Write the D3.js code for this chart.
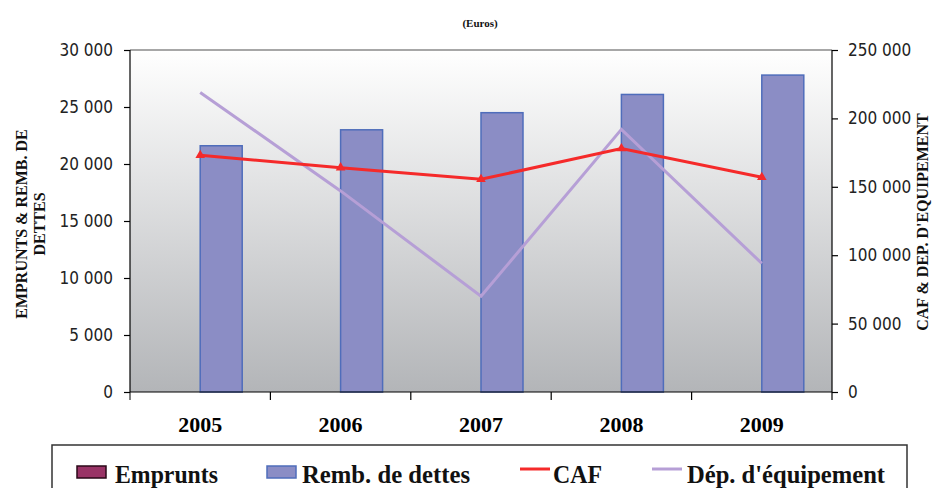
<!DOCTYPE html>
<html>
<head>
<meta charset="utf-8">
<script src="https://cdn.jsdelivr.net/npm/d3@7"></script>
<style>
  body { margin: 0; background: #fff; }
  .tick text { font-family: "Liberation Sans Narrow", "DejaVu Sans Condensed", sans-serif; font-size: 17px; fill: #222; }
  .xax .tick text { font-family: "Liberation Serif", serif; font-weight: bold; font-size: 22px; fill: #000; }
  .title, .ytitle, .leg { font-family: "Liberation Serif", serif; font-weight: bold; fill: #111; }
</style>
</head>
<body>
<div id="chart"></div>
<script>
  let years     = ['2005', '2006', '2007', '2008', '2009'],
      emprunts  = [0, 0, 0, 0, 0],
      remb      = [21600, 23000, 24500, 26100, 27800],
      caf       = [173000, 164000, 155500, 178000, 157000],
      depEquip  = [219000, 147000, 70000, 192000, 94000],
      leftTicks  = [0, 5000, 10000, 15000, 20000, 25000, 30000],
      rightTicks = [0, 50000, 100000, 150000, 200000, 250000]

  let width = 933, height = 488,
      m = { left: 130, right: 832, top: 50, bottom: 392 }

  let svg = d3.select('#chart').append('svg:svg')
              .attr('width', width).attr('height', height)

  let defs = svg.append('defs')
  let grad = defs.append('linearGradient').attr('id', 'bg')
                 .attr('x1', 0).attr('y1', 0).attr('x2', 0).attr('y2', 1)
  grad.append('stop').attr('offset', '0%').attr('stop-color', '#ffffff')
  grad.append('stop').attr('offset', '100%').attr('stop-color', '#b3b5b8')

  let fmt = d => d3.format(',')(d).replace(/,/g, ' ')

  let x  = d3.scaleBand().domain(years).range([m.left, m.right]),
      yL = d3.scaleLinear().domain([0, 30000]).range([m.bottom, m.top]),
      yR = d3.scaleLinear().domain([0, 250000]).range([m.bottom, m.top])

  // plot area
  svg.append('rect')
    .attr('x', m.left).attr('y', m.top)
    .attr('width', m.right - m.left).attr('height', m.bottom - m.top)
    .attr('fill', 'url(#bg)')
  svg.append('line')
    .attr('x1', m.left).attr('x2', m.right).attr('y1', m.top).attr('y2', m.top)
    .attr('stroke', '#8a8a8a').attr('stroke-width', 1.5)

  // bars
  let barW = 42
  let bars = svg.append('g')
  bars.selectAll('rect.emp').data(years).enter().append('rect')
    .attr('class', 'emp')
    .attr('x', d => x(d) + x.bandwidth() / 2 - barW)
    .attr('width', barW)
    .attr('y', (d, i) => yL(emprunts[i]))
    .attr('height', (d, i) => yL(0) - yL(emprunts[i]))
    .attr('fill', '#993366').attr('stroke', '#4a1030')
  bars.selectAll('rect.remb').data(years).enter().append('rect')
    .attr('class', 'remb')
    .attr('x', d => x(d) + x.bandwidth() / 2)
    .attr('width', barW)
    .attr('y', (d, i) => yL(remb[i]))
    .attr('height', (d, i) => yL(0) - yL(remb[i]))
    .attr('fill', '#8b8dc5').attr('stroke', '#4f6dbb').attr('stroke-width', 1.5)

  // lines
  let cx = d => x(d) + x.bandwidth() / 2
  let lineR = vals => d3.line().x((d, i) => cx(years[i])).y(d => yR(d))(vals)

  svg.append('path').attr('d', lineR(depEquip))
    .attr('fill', 'none').attr('stroke', '#b69fd6').attr('stroke-width', 3)
  svg.append('path').attr('d', lineR(caf))
    .attr('fill', 'none').attr('stroke', '#f52a2a').attr('stroke-width', 3)
  svg.append('g').selectAll('path').data(caf).enter().append('path')
    .attr('d', d3.symbol().type(d3.symbolTriangle).size(40))
    .attr('transform', (d, i) => 'translate(' + cx(years[i]) + ',' + yR(d) + ')')
    .attr('fill', '#f52a2a')

  // axes
  let gl = svg.append('g').attr('transform', 'translate(' + m.left + ',0)')
    .call(d3.axisLeft(yL).tickValues(leftTicks).tickFormat(fmt).tickSize(6).tickPadding(11))
  let gr = svg.append('g').attr('transform', 'translate(' + m.right + ',0)')
    .call(d3.axisRight(yR).tickValues(rightTicks).tickFormat(fmt).tickSize(6).tickPadding(10))
  let gx = svg.append('g').attr('class', 'xax').attr('transform', 'translate(0,' + m.bottom + ')')
    .call(d3.axisBottom(x).tickSize(0).tickPadding(24))
  gx.selectAll('.tick').append('line')
    .attr('x1', x.bandwidth() / 2).attr('x2', x.bandwidth() / 2)
    .attr('y1', 0).attr('y2', 8).attr('stroke', '#000')
  gx.append('line').attr('x1', m.left).attr('x2', m.left).attr('y1', 0).attr('y2', 8).attr('stroke', '#000')
  ;[gl, gr, gx].forEach(g => g.selectAll('.domain, .tick line').attr('stroke', '#000').attr('stroke-width', 1.2))
  gl.select('.domain').attr('d', 'M0,' + m.top + 'V' + m.bottom)
  gr.select('.domain').attr('d', 'M0,' + m.top + 'V' + m.bottom)
  gx.select('.domain').attr('d', 'M' + m.left + ',0H' + m.right)

  // titles
  svg.append('text').attr('class', 'title').attr('x', 480).attr('y', 27)
    .attr('text-anchor', 'middle').style('font-size', '11px').text('(Euros)')
  let lt = svg.append('text').attr('class', 'ytitle')
    .attr('transform', 'translate(27,224) rotate(-90)')
    .attr('text-anchor', 'middle').style('font-size', '16px')
  lt.append('tspan').attr('x', 0).attr('dy', 0).text('EMPRUNTS & REMB. DE')
  lt.append('tspan').attr('x', 0).attr('dy', 18).text('DETTES')
  svg.append('text').attr('class', 'ytitle')
    .attr('transform', 'translate(928,222) rotate(-90)')
    .attr('text-anchor', 'middle').style('font-size', '16px')
    .text("CAF & DEP. D'EQUIPEMENT")

  // legend
  svg.append('rect').attr('x', 52).attr('y', 445).attr('width', 855).attr('height', 60)
    .attr('fill', '#fff').attr('stroke', '#333').attr('stroke-width', 1.5)
  let legItems = [
    { label: 'Emprunts', type: 'rect', fill: '#993366', stroke: '#2a0818', x: 77, tx: 115, tw: 103 },
    { label: 'Remb. de dettes', type: 'rect', fill: '#8b8dc5', stroke: '#4f6dbb', x: 267, tx: 302, tw: 168 },
    { label: 'CAF', type: 'line', stroke: '#f52a2a', x: 520, tx: 553, tw: 49 },
    { label: "Dép. d'équipement", type: 'line', stroke: '#b69fd6', x: 652, tx: 687, tw: 198 }
  ]
  let lg = svg.append('g').selectAll('g').data(legItems).enter().append('g')
  lg.filter(d => d.type === 'rect').append('rect')
    .attr('x', d => d.x).attr('y', 466).attr('width', 29).attr('height', 12)
    .attr('fill', d => d.fill).attr('stroke', d => d.stroke).attr('stroke-width', 1.5)
  lg.filter(d => d.type === 'line').append('line')
    .attr('x1', d => d.x).attr('x2', d => d.x + 30).attr('y1', 469).attr('y2', 469)
    .attr('stroke', d => d.stroke).attr('stroke-width', 3)
  lg.append('text').attr('class', 'leg')
    .attr('x', d => d.tx).attr('y', 483)
    .attr('textLength', d => d.tw).attr('lengthAdjust', 'spacingAndGlyphs')
    .style('font-size', '26px').text(d => d.label)
</script>
</body>
</html>
